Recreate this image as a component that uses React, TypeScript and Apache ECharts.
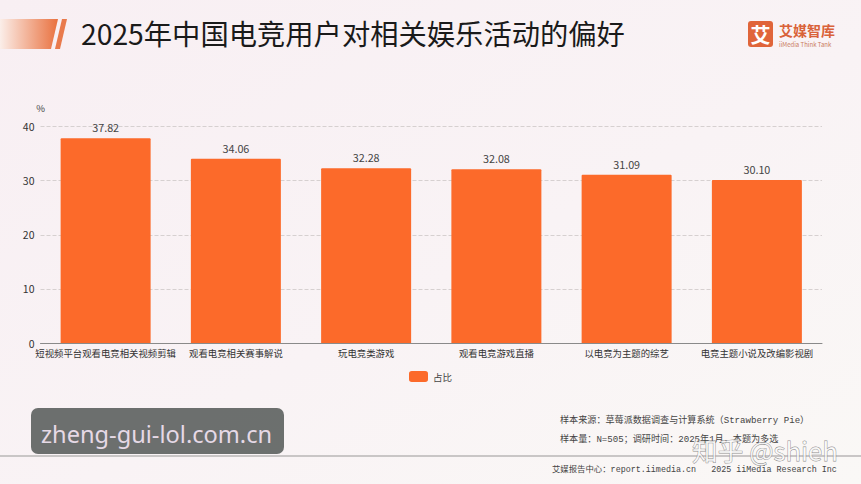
import React, { useEffect, useRef } from "react";
import * as echarts from "echarts";

const categories = [
  "短视频平台观看电竞相关视频剪辑",
  "观看电竞相关赛事解说",
  "玩电竞类游戏",
  "观看电竞游戏直播",
  "以电竞为主题的综艺",
  "电竞主题小说及改编影视剧",
];
const seriesName = "占比";
const shares = [37.82, 34.06, 32.28, 32.08, 31.09, 30.1];
const titleText = "2025年中国电竞用户对相关娱乐活动的偏好";
const sourceLines = [
  "样本来源：草莓派数据调查与计算系统（Strawberry Pie）",
  "样本量：N=505；调研时间：2025年1月，本题为多选",
];
const footerText = "艾媒报告中心：report.iimedia.cn   2025 iiMedia Research Inc";

const CJK = '"Noto Sans CJK SC", "Noto Sans", sans-serif';
const MONO = '"Liberation Mono", "Noto Sans CJK SC", monospace';

export default function App() {
  const ref = useRef<HTMLDivElement>(null);
  useEffect(() => {
    document.body.style.margin = "0";
    const chart = echarts.init(ref.current!, undefined, { renderer: "svg" });
    chart.setOption({
      animation: false,
      backgroundColor: {
        type: "linear", x: 0, y: 0, x2: 1, y2: 1,
        colorStops: [
          { offset: 0, color: "#f8eff3" },
          { offset: 0.55, color: "#f9f3f5" },
          { offset: 1, color: "#faf8f6" },
        ],
      },
      textStyle: { fontFamily: CJK },
      title: {
        text: titleText,
        left: 81,
        top: 18,
        padding: 0,
        textStyle: { fontFamily: CJK, fontSize: 28.3, fontWeight: 400, color: "#1a1a1a" },
      },
      grid: { left: 40.5, right: 39, top: 126.5, bottom: 141 },
      legend: {
        data: [seriesName],
        left: 409,
        top: 371,
        padding: 0,
        itemWidth: 19,
        itemHeight: 11,
        itemGap: 5,
        textStyle: { fontSize: 9.5, color: "#444", fontFamily: CJK },
      },
      xAxis: {
        type: "category",
        data: categories,
        axisLine: { lineStyle: { color: "#8a8a8a", width: 1 } },
        axisTick: { show: false },
        axisLabel: { interval: 0, fontSize: 9.4, color: "#333", margin: 5, fontFamily: CJK },
      },
      yAxis: {
        type: "value",
        min: 0,
        max: 40,
        interval: 10,
        name: "%",
        nameLocation: "end",
        nameGap: 14,
        nameTextStyle: { fontSize: 9.5, color: "#444", fontFamily: CJK },
        axisLine: { show: false },
        axisTick: { show: false },
        axisLabel: { fontSize: 10.5, color: "#333", margin: 6, fontFamily: CJK, padding: [0, 0, 4, 0] },
        splitLine: { lineStyle: { color: "#d6d0d0", type: "dashed", width: 1 } },
      },
      series: [
        {
          name: seriesName,
          type: "bar",
          data: shares,
          barWidth: 90,
          itemStyle: { color: "#fc6a2a", borderRadius: [1, 1, 0, 0] },
          label: {
            show: true,
            position: "top",
            distance: 5.5,
            fontSize: 10.8,
            color: "#444",
            fontFamily: CJK,
            formatter: (p: any) => Number(p.value).toFixed(2),
          },
        },
      ],
      graphic: [
        {
          type: "polygon",
          shape: { points: [[0, 19], [58, 19], [51, 49], [0, 49]] },
          style: {
            fill: {
              type: "linear", x: 0, y: 0, x2: 1, y2: 0,
              colorStops: [
                { offset: 0, color: "#fbeee9" },
                { offset: 1, color: "#e9713f" },
              ],
            },
          },
        },
        {
          type: "polygon",
          shape: { points: [[62, 19], [67, 19], [60, 49], [55, 49]] },
          style: { fill: "#e97a4c" },
        },
        {
          type: "rect",
          shape: { x: 748, y: 21, width: 25, height: 26, r: 3 },
          style: { fill: "#e0653a" },
        },
        {
          type: "text", x: 760.5, y: 34,
          style: { text: "艾", fill: "#fff", font: `700 20px ${CJK}`, align: "center", verticalAlign: "middle" },
        },
        {
          type: "text", x: 779, y: 30,
          style: { text: "艾媒智库", fill: "#d9633a", font: `700 14px ${CJK}`, align: "left", verticalAlign: "middle" },
        },
        {
          type: "text", x: 779, y: 44,
          style: { text: "iiMedia Think Tank", fill: "#c9795c", font: `400 6px ${CJK}`, align: "left", verticalAlign: "middle" },
        },
        {
          type: "text", x: 560, y: 420,
          style: { text: sourceLines[0], fill: "#444", font: `400 9.1px ${MONO}`, align: "left", verticalAlign: "middle" },
        },
        {
          type: "text", x: 560, y: 439,
          style: { text: sourceLines[1], fill: "#444", font: `400 9.1px ${MONO}`, align: "left", verticalAlign: "middle" },
        },
        {
          type: "rect",
          shape: { x: 0, y: 455, width: 861, height: 2 },
          style: { fill: "#c9c6c6" },
        },
        {
          type: "text", x: 552, y: 470,
          style: { text: footerText, fill: "#444", font: `400 8.4px ${MONO}`, align: "left", verticalAlign: "middle" },
        },
        {
          type: "text", x: 692, y: 449,
          style: { text: "知乎 @shieh", fill: "rgba(255,255,255,0.75)", stroke: "rgba(90,90,90,0.7)", lineWidth: 0.8, font: `400 25.7px ${CJK}`, align: "left", verticalAlign: "middle" },
        },
        {
          type: "rect",
          shape: { x: 31, y: 408, width: 253, height: 46, r: 7 },
          style: { fill: "rgba(96,100,98,0.92)" },
        },
        {
          type: "text", x: 41, y: 434,
          style: { text: "zheng-gui-lol.com.cn", fill: "#e6d9e6", font: `400 23.6px "Noto Sans", sans-serif`, align: "left", verticalAlign: "middle" },
        },
      ],
    });
    return () => chart.dispose();
  }, []);
  return <div ref={ref} style={{ width: 861, height: 484 }} />;
}
